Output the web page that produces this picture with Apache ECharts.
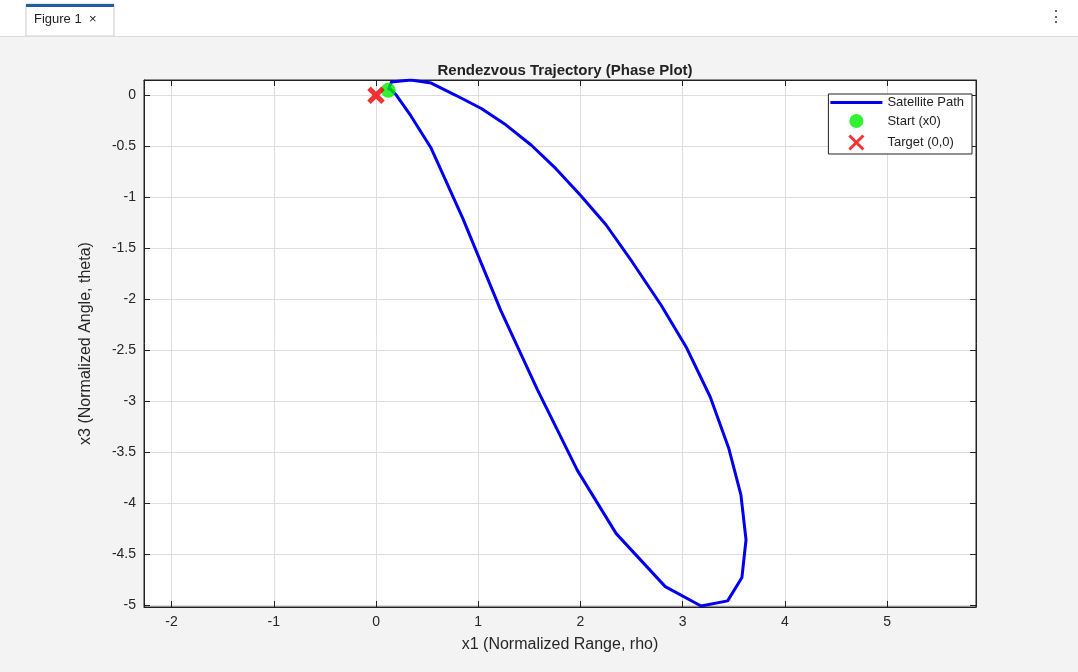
<!DOCTYPE html><html><head><meta charset="utf-8">
<script src="https://cdn.jsdelivr.net/npm/echarts@6/dist/echarts.min.js"></script>
<style>html,body{margin:0;background:#f3f3f3}#c{width:1078px;height:672px}</style></head><body><div id="c"></div><script>
const pathX=[0.12,0.15,0.34,0.54,0.78,1.03,1.27,1.52,1.76,2.00,2.25,2.51,2.79,3.04,3.27,3.45,3.57,3.62,3.58,3.44,3.18,2.83,2.35,1.97,1.58,1.22,0.85,0.54,0.34,0.20,0.13,0.12];
const pathY=[0.05,0.13,0.15,0.12,0.0,-0.13,-0.29,-0.49,-0.72,-0.98,-1.27,-1.64,-2.06,-2.48,-2.96,-3.46,-3.92,-4.36,-4.73,-4.96,-5.01,-4.82,-4.30,-3.68,-2.89,-2.11,-1.21,-0.52,-0.20,0.0,0.07,0.05];
const startPt=[0.12,0.05], targetPt=[0,0];
const xTicks=[-2,-1,0,1,2,3,4,5];
const yTicks=[-5,-4.5,-4,-3.5,-3,-2.5,-2,-1.5,-1,-0.5,0];
const X='path://M0,0L10,10M10,0L0,10';
const ch=echarts.init(document.getElementById('c'));
const ax={color:'#262626',fontFamily:'Arial, Liberation Sans',fontSize:14};
const tk=(v,show)=>({type:'value',show:true,axisLine:{onZero:false,lineStyle:{color:'#222'}},axisTick:{inside:true,length:6,customValues:v,lineStyle:{color:'#222'}},axisLabel:show?{...ax,customValues:v}:{show:false},splitLine:{show:show,lineStyle:{color:'#dedede'}}});
ch.setOption({animation:false,
graphic:[{type:'rect',shape:{x:0,y:0,width:1078,height:36},style:{fill:'#fff'}},
{type:'rect',shape:{x:26,y:4,width:88,height:32},style:{fill:'#fff',stroke:'#ccc'}},
{type:'rect',shape:{x:26,y:4,width:88,height:3},style:{fill:'#1f5f9f'}},
{type:'text',left:34,top:13,style:{text:'Figure 1  ×',font:'13px Arial',fill:'#222'}},
{type:'text',left:1048,top:10,style:{text:'⋮',font:'16px Arial',fill:'#444'}},
{type:'rect',shape:{x:0,y:36,width:1078,height:1},style:{fill:'#ddd'}}],
title:{text:'Rendezvous Trajectory (Phase Plot)',left:560,textAlign:'center',top:58,textStyle:{fontFamily:'Arial, Liberation Sans',fontSize:15,fontWeight:'bold',color:'#222'}},
grid:{left:144,right:102,top:80,bottom:65,show:true,backgroundColor:'#fff',borderColor:'#222',borderWidth:1},
legend:{orient:'vertical',right:106,top:94,backgroundColor:'#fff',borderColor:'#222',borderWidth:1,padding:[2,8,2,2],itemGap:5,itemWidth:52,itemHeight:14,textStyle:{fontFamily:'Arial',fontSize:13,color:'#222'},
data:[{name:'Satellite Path',icon:'path://M0,4L50,4L50,7L0,7Z'},{name:'Start (x0)',icon:'circle'},{name:'Target (0,0)',icon:X,itemStyle:{borderColor:'#ee0000',borderWidth:3,color:'none'}}]},
xAxis:[{...tk(xTicks,true),min:-2.27,max:5.87,position:'bottom',name:'x1 (Normalized Range, rho)',nameLocation:'middle',nameGap:30,nameTextStyle:{...ax,fontSize:16}},
{...tk(xTicks,false),min:-2.27,max:5.87,position:'top'}],
yAxis:[{...tk(yTicks,true),min:-5.02,max:0.15,position:'left',name:'x3 (Normalized Angle, theta)',nameLocation:'middle',nameGap:50,nameTextStyle:{...ax,fontSize:16}},
{...tk(yTicks,false),min:-5.02,max:0.15,position:'right'}],
series:[{name:'Satellite Path',type:'line',data:pathX.map((x,i)=>[x,pathY[i]]),showSymbol:false,lineStyle:{color:'#0000ee',width:3},itemStyle:{color:'#0000ee'},z:2},
{name:'Start (x0)',type:'scatter',data:[startPt],symbol:'circle',symbolSize:15,itemStyle:{color:'#00ee00'},z:3},
{name:'Target (0,0)',type:'scatter',data:[targetPt],symbol:X,symbolSize:[14,14],itemStyle:{color:'none',borderColor:'#ee0000',borderWidth:5},z:4}]});
</script></body></html>
